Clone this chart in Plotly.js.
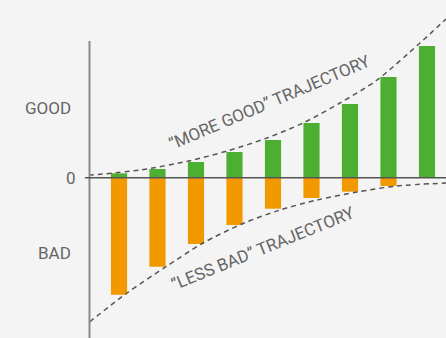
<!DOCTYPE html>
<html>
<head>
<meta charset="utf-8">
<script src="https://cdn.plot.ly/plotly-3.0.1.min.js"></script>
<style>
  html, body { margin: 0; padding: 0; background: #f4f4f4; }
  #chart { width: 446px; height: 338px; }
</style>
</head>
<body>
<div id="chart"></div>
<script>
// ---- data ----
const periods = [1, 2, 3, 4, 5, 6, 7, 8, 9];
const goodValues = [0.44, 0.87, 1.57, 2.57, 3.77, 5.47, 7.37, 10.07, 13.17];
const badValues = [-11.7, -8.9, -6.63, -4.73, -3.1, -2.03, -1.4, -0.83, 0];

const moreGoodX = [0.208, 1.545, 2.844, 3.831, 4.844, 5.779, 6.740, 7.701, 8.818, 9.494];
const moreGoodY = [0.24, 0.77, 1.70, 2.70, 3.97, 5.47, 7.47, 9.77, 13.47, 15.87];

const lessBadX = [0.234, 1.208, 2.221, 3.182, 4.221, 5.182, 6.143, 7.182, 8.221, 9.494];
const lessBadY = [-14.43, -11.53, -8.90, -6.53, -4.58, -3.23, -2.23, -1.43, -0.83, -0.53];

const yLabels = ["GOOD", "0", "BAD"];
const yLabelValues = [6.97, 0, -7.53];
const trajectoryLabels = ["\u201cMORE GOOD\u201d TRAJECTORY", "\u201cLESS BAD\u201d TRAJECTORY"];

// ---- chart ----
const GREEN = "#4caf32";
const ORANGE = "#f29900";
const DASH_COLOR = "#555555";
const TEXT_COLOR = "#666666";
const FONT = "Roboto, Liberation Sans, Arial, sans-serif";

const xRange = [0.221, 9.494];
const yRange = [-16.03, 17.77];
const axisTop = 13.67;

const traces = [
  { type: "bar", x: periods, y: goodValues, width: 0.42,
    marker: { color: GREEN, line: { width: 0 } }, hoverinfo: "skip" },
  { type: "bar", x: periods, y: badValues, width: 0.42,
    marker: { color: ORANGE, line: { width: 0 } }, hoverinfo: "skip" },
  { type: "scatter", mode: "lines", x: moreGoodX, y: moreGoodY,
    line: { color: DASH_COLOR, width: 1.5, dash: "5px,4px", shape: "spline", smoothing: 0.8 },
    hoverinfo: "skip" },
  { type: "scatter", mode: "lines", x: lessBadX, y: lessBadY,
    line: { color: DASH_COLOR, width: 1.5, dash: "5px,4px", shape: "spline", smoothing: 0.8 },
    hoverinfo: "skip" }
];

const annotations = [];
yLabels.forEach((t, i) => {
  annotations.push({
    text: t, xref: "paper", yref: "y",
    x: t === "0" ? -0.0308 : -0.0448, y: yLabelValues[i],
    xanchor: "right", yanchor: "middle", showarrow: false,
    font: { family: FONT, size: 17, color: TEXT_COLOR }
  });
});
annotations.push({
  text: trajectoryLabels[0], xref: "x", yref: "y", x: 4.92, y: 7.57,
  xanchor: "center", yanchor: "middle", showarrow: false, textangle: -23,
  font: { family: FONT, size: 17, color: TEXT_COLOR }
});
annotations.push({
  text: trajectoryLabels[1], xref: "x", yref: "y", x: 4.75, y: -7.06,
  xanchor: "center", yanchor: "middle", showarrow: false, textangle: -22,
  font: { family: FONT, size: 17, color: TEXT_COLOR }
});

const layout = {
  width: 446, height: 338,
  margin: { l: 89, r: 0, t: 0, b: 0, pad: 0 },
  paper_bgcolor: "#f4f4f4", plot_bgcolor: "#f4f4f4",
  showlegend: false,
  barmode: "relative",
  hovermode: false,
  xaxis: { range: xRange, showgrid: false, zeroline: false, showline: false,
           showticklabels: false, ticks: "", fixedrange: true },
  yaxis: { range: yRange, showgrid: false, zeroline: false, showline: false,
           showticklabels: false, ticks: "", fixedrange: true },
  shapes: [
    { type: "line", xref: "paper", yref: "y", x0: 0.0014, x1: 0.0014, y0: yRange[0], y1: axisTop,
      line: { color: "#8a8a8a", width: 2 }, layer: "above" },
    { type: "line", xref: "paper", yref: "y", x0: -0.0112, x1: 1, y0: 0, y1: 0,
      line: { color: "#555555", width: 1.5 }, layer: "above" }
  ],
  annotations: annotations,
  font: { family: FONT }
};

Plotly.newPlot("chart", traces, layout, { displayModeBar: false, staticPlot: true });
</script>
</body>
</html>
